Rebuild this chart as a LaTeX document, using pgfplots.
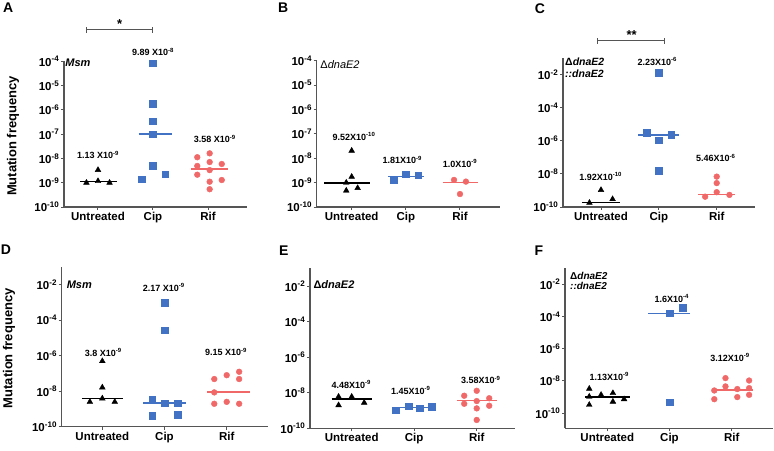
\documentclass[border=0pt]{standalone}
\usepackage{fontspec}
\setmainfont{Liberation Sans}
\usepackage{pgfplots}
\pgfplotsset{compat=1.18}
\definecolor{myblue}{RGB}{66,114,196}
\definecolor{myred}{RGB}{240,104,104}
\definecolor{axgray}{RGB}{85,85,85}
\newcommand{\tl}[1]{10\textsuperscript{#1}}
\newcommand{\ann}{\fontsize{9}{10}\selectfont\bfseries}
\pgfplotsset{
 mypanel/.style={
   scale only axis, anchor=south west, clip=false,
   axis lines=left, axis line style={-, line width=1.2pt, axgray},
   xtick={0,1,2}, xticklabels={Untreated,Cip,Rif},
   tick align=outside, major tick length=3pt,
   tick style={axgray, line width=1pt},
   yminorticks=false,
   ticklabel style={font=\fontsize{11.5}{12}\selectfont\bfseries, text=black},
   yticklabel style={inner sep=1.5pt},
   xticklabel style={inner sep=2pt},
 },
 mytop/.style={ytick={1e-10,1e-9,1e-8,1e-7,1e-6,1e-5,1e-4},
   yticklabels={\tl{-10},\tl{-9},\tl{-8},\tl{-7},\tl{-6},\tl{-5},\tl{-4}},
   ymin=1e-10, ymax=1e-4},
 myeven/.style={ytick={1e-10,1e-8,1e-6,1e-4,1e-2},
   yticklabels={\tl{-10},\tl{-8},\tl{-6},\tl{-4},\tl{-2}},
   ymax=1e-1},
 mytri/.style={only marks, mark=triangle*, mark size=3.3pt, color=black},
 mysq/.style={only marks, mark=square*, mark size=3.3pt, color=myblue},
 mycirc/.style={only marks, mark=*, mark size=2.9pt, color=myred},
 mymed/.style={no marks, line width=1.6pt},
}
\begin{document}
\begin{tikzpicture}
\useasboundingbox (0pt,0pt) rectangle (774pt,450pt);

% ---------------- A ----------------
\begin{axis}[ymode=log, mypanel, mytop, at={(64pt,243pt)}, width=183pt, height=145.7pt, xmin=-0.618, xmax=2.709]
\addplot[mytri] coordinates {(-0.21,1.0e-9) (0,1.17e-9) (0.21,1.0e-9) (0,3.35e-9)};
\addplot[mymed, black] coordinates {(-0.32,1.13e-9) (0.35,1.13e-9)};
\addplot[mysq] coordinates {(1,8.3e-5) (1,1.82e-6) (1,3.47e-7) (1,1.0e-7) (1,5.0e-9) (0.8,1.38e-9) (1.22,2.24e-9)};
\addplot[mymed, myblue] coordinates {(0.74,9.89e-8) (1.35,9.89e-8)};
\addplot[mycirc] coordinates {(1.805,1.12e-8) (2.03,1.62e-8) (1.805,4.9e-9) (2.03,7.1e-9) (2.25,5.9e-9) (2.03,3.3e-9) (1.805,2.14e-9) (2.03,1.1e-9) (2.25,1.29e-9) (2.03,5.4e-10)};
\addplot[mymed, myred] coordinates {(1.69,3.58e-9) (2.37,3.58e-9)};
\end{axis}

% ---------------- B ----------------
\begin{axis}[ymode=log, mypanel, mytop, at={(316.7pt,243pt)}, width=183.3pt, height=146.3pt, xmin=-0.646, xmax=2.739]
\addplot[mytri] coordinates {(0,2.04e-8) (0,1.74e-9) (-0.1,1.0e-9) (-0.1,4.7e-10) (0.11,6.0e-10)};
\addplot[mymed, black] coordinates {(-0.51,9.52e-10) (0.34,9.52e-10)};
\addplot[mysq] coordinates {(0.78,1.35e-9) (1,2.24e-9) (1.23,2.0e-9)};
\addplot[mymed, myblue] coordinates {(0.67,1.81e-9) (1.33,1.81e-9)};
\addplot[mycirc] coordinates {(1.89,1.29e-9) (2.11,1.1e-9) (2,3.4e-10)};
\addplot[mymed, myred] coordinates {(1.68,1.0e-9) (2.34,1.0e-9)};
\end{axis}

% ---------------- C ----------------
\begin{axis}[ymode=log, mypanel, myeven, ymin=1e-10, at={(563pt,243pt)}, width=192pt, height=148.7pt, xmin=-0.657, xmax=2.662]
\addplot[mytri] coordinates {(0,1.07e-9) (-0.2,1.8e-10) (0.2,3.0e-10)};
\addplot[mymed, black] coordinates {(-0.33,1.92e-10) (0.33,1.92e-10)};
\addplot[mysq] coordinates {(1,1.38e-2) (0.79,3.16e-6) (1.21,2.29e-6) (1,1.1e-6) (1,1.58e-8)};
\addplot[mymed, myblue] coordinates {(0.64,2.23e-6) (1.34,2.23e-6)};
\addplot[mycirc] coordinates {(2,6.9e-9) (2,2.8e-9) (2,7.9e-10) (1.8,4.2e-10) (2.22,5.4e-10)};
\addplot[mymed, myred] coordinates {(1.68,5.6e-10) (2.32,5.6e-10)};
\end{axis}

% ---------------- D ----------------
\begin{axis}[ymode=log, mypanel, myeven, ymin=1e-10, at={(61.7pt,23.3pt)}, width=206.3pt, height=160pt, xmin=-0.653, xmax=2.664]
\addplot[mytri] coordinates {(0,4.9e-7) (0,1.62e-8) (0,3.9e-9) (-0.2,2.5e-9) (0.2,2.5e-9)};
\addplot[mymed, black] coordinates {(-0.33,3.8e-9) (0.34,3.8e-9)};
\addplot[mysq] coordinates {(1,9.8e-4) (1,2.7e-5) (0.8,3.5e-9) (1,2.14e-9) (1.21,2.14e-9) (0.8,4.2e-10) (1.21,4.9e-10)};
\addplot[mymed, myblue] coordinates {(0.66,2.17e-9) (1.34,2.17e-9)};
\addplot[mycirc] coordinates {(1.8,4.8e-8) (2,7.9e-8) (2.2,1.23e-7) (2.2,4.8e-8) (1.8,8.5e-9) (1.8,1.95e-9) (2,2.5e-9) (2.2,1.95e-9)};
\addplot[mymed, myred] coordinates {(1.68,9.15e-9) (2.38,9.15e-9)};
\end{axis}

% ---------------- E ----------------
\begin{axis}[ymode=log, mypanel, myeven, ymin=1e-10, at={(310pt,21.7pt)}, width=205pt, height=160pt, xmin=-0.667, xmax=2.613]
\addplot[mytri] coordinates {(-0.21,6.0e-9) (0,6.0e-9) (-0.21,2.0e-9) (0.2,2.75e-9)};
\addplot[mymed, black] coordinates {(-0.32,4.48e-9) (0.33,4.48e-9)};
\addplot[mysq] coordinates {(0.7,1.02e-9) (0.91,1.78e-9) (1.09,1.32e-9) (1.28,1.66e-9)};
\addplot[mymed, myblue] coordinates {(0.67,1.45e-9) (1.31,1.45e-9)};
\addplot[mycirc] coordinates {(1.8,6.8e-9) (2,1.29e-8) (2.2,4.9e-9) (1.8,2.4e-9) (2,3.4e-9) (2.2,1.86e-9) (2,1.32e-9) (2,2.95e-10)};
\addplot[mymed, myred] coordinates {(1.68,3.58e-9) (2.32,3.58e-9)};
\end{axis}

% ---------------- F ----------------
\begin{axis}[ymode=log, mypanel, myeven, ymin=1.15e-11, at={(565pt,21.7pt)}, width=208pt, height=160pt, xmin=-0.68, xmax=2.664]
\addplot[mytri] coordinates {(-0.29,3.3e-9) (-0.29,1.07e-9) (-0.29,3.3e-10) (-0.1,1.38e-9) (0.09,1.78e-9) (0.09,5.2e-10) (0.27,7.4e-10)};
\addplot[mymed, black] coordinates {(-0.36,1.0e-9) (0.36,1.0e-9)};
\addplot[mysq] coordinates {(1,1.66e-4) (1.21,3.7e-4) (1,4.7e-10)};
\addplot[mymed, myblue] coordinates {(0.66,1.6e-4) (1.33,1.6e-4)};
\addplot[mycirc] coordinates {(1.72,2.57e-9) (1.72,7.4e-10) (1.9,1.51e-8) (1.9,4.6e-9) (2.09,3.16e-9) (2.09,1.0e-9) (2.28,1.07e-8) (2.28,3.6e-9) (2.28,1.38e-9)};
\addplot[mymed, myred] coordinates {(1.68,2.8e-9) (2.35,2.8e-9)};
\end{axis}

% ---------------- annotations ----------------
\begin{scope}[font=\ann]
% A
\draw[axgray, line width=1pt] (86.7pt,417pt) -- (86.7pt,423pt) (86.7pt,420pt) -- (152.7pt,420pt) (152.7pt,417pt) -- (152.7pt,423pt);
\node[font=\fontsize{13}{14}\selectfont\bfseries] at (119.7pt,426pt) {*};
\node at (98pt,295pt) {1.13 X10\textsuperscript{-9}};
\node at (153pt,398pt) {9.89 X10\textsuperscript{-8}};
\node at (214.7pt,311pt) {3.58 X10\textsuperscript{-9}};
\node[font=\fontsize{11}{12}\selectfont\bfseries\itshape] at (78pt,387pt) {Msm};
% B
\node at (354pt,313.3pt) {9.52X10\textsuperscript{-10}};
\node at (402.3pt,290pt) {1.81X10\textsuperscript{-9}};
\node at (460pt,286.7pt) {1.0X10\textsuperscript{-9}};
\node[font=\fontsize{11}{12}\selectfont] at (340pt,385pt) {Δ\textit{dnaE2}};
% C
\draw[axgray, line width=1pt] (597.3pt,406.3pt) -- (597.3pt,412.3pt) (597.3pt,409.3pt) -- (664pt,409.3pt) (664pt,406.3pt) -- (664pt,412.3pt);
\node[font=\fontsize{13}{14}\selectfont\bfseries] at (631.7pt,415pt) {**};
\node at (657.3pt,388.3pt) {2.23X10\textsuperscript{-6}};
\node at (600.7pt,273.3pt) {1.92X10\textsuperscript{-10}};
\node at (715.7pt,292pt) {5.46X10\textsuperscript{-6}};
\node[anchor=north west, inner sep=0pt, align=left, font=\fontsize{10.5}{12}\selectfont\bfseries] at (565pt,392pt) {Δ\textit{dnaE2}\\\textit{::dnaE2}};
% D
\node[font=\fontsize{11}{12}\selectfont\bfseries\itshape] at (79.3pt,165.7pt) {Msm};
\node at (103.3pt,97.3pt) {3.8 X10\textsuperscript{-9}};
\node at (163.7pt,162.3pt) {2.17 X10\textsuperscript{-9}};
\node at (226pt,98pt) {9.15 X10\textsuperscript{-9}};
% E
\node[anchor=west, inner sep=0pt, font=\fontsize{11}{12}\selectfont\bfseries] at (313.3pt,165pt) {Δ\textit{dnaE2}};
\node at (351.3pt,65.7pt) {4.48X10\textsuperscript{-9}};
\node at (410.7pt,59.3pt) {1.45X10\textsuperscript{-9}};
\node at (480.7pt,70pt) {3.58X10\textsuperscript{-9}};
% F
\node[anchor=north west, inner sep=0pt, align=left, font=\fontsize{10}{9.5}\selectfont\bfseries] at (570pt,177.5pt) {Δ\textit{dnaE2}\\\textit{::dnaE2}};
\node at (671.7pt,151.7pt) {1.6X10\textsuperscript{-4}};
\node at (730pt,92.7pt) {3.12X10\textsuperscript{-9}};
\node at (609.3pt,73.3pt) {1.13X10\textsuperscript{-9}};
\end{scope}
% y labels
\node[rotate=90, font=\fontsize{13}{14}\selectfont\bfseries] at (13pt,314pt) {Mutation frequency};
\node[rotate=90, font=\fontsize{13}{14}\selectfont\bfseries] at (9pt,101.7pt) {Mutation frequency};
% panel letters
\begin{scope}[font=\fontsize{14}{15}\selectfont\bfseries]
\node at (8.3pt,442.5pt) {A};
\node at (283.3pt,442.5pt) {B};
\node at (540pt,441.7pt) {C};
\node at (6pt,200pt) {D};
\node at (283.7pt,199pt) {E};
\node at (539pt,199pt) {F};
\end{scope}
\end{tikzpicture}
\end{document}
